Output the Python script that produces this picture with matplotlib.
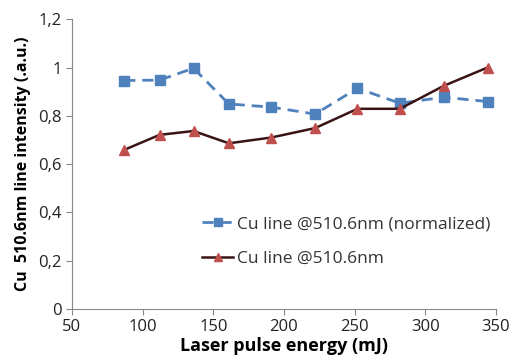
import numpy as np
import matplotlib.pyplot as plt
from matplotlib.ticker import FuncFormatter

# data
energy = [87, 112, 136, 161, 191, 222, 252, 282, 313, 344]
norm_line = [0.946, 0.948, 0.997, 0.849, 0.836, 0.807, 0.914, 0.852, 0.877, 0.859]
cu_line = [0.659, 0.721, 0.737, 0.686, 0.710, 0.749, 0.829, 0.829, 0.924, 1.0]

plt.rcParams['font.family'] = ['Open Sans', 'DejaVu Sans']

fig = plt.figure(figsize=(5.14, 3.63), dpi=100)
ax = fig.add_axes([0.140, 0.149, 0.825, 0.798])

ax.plot(energy, norm_line, color='#4F81BD', linestyle=(0, (4, 2.5)), linewidth=2,
        marker='s', markersize=7, label='Cu line @510.6nm (normalized)')
ax.plot(energy, cu_line, color='#3a1414', linewidth=1.8,
        marker='^', markersize=7, markerfacecolor='#C0504D', markeredgecolor='#C0504D',
        label='Cu line @510.6nm')

ax.set_xlim(50, 350)
ax.set_ylim(0, 1.2)
ax.set_xticks(np.arange(50, 351, 50))
ax.set_yticks(np.arange(0, 1.21, 0.2))
ax.yaxis.set_major_formatter(FuncFormatter(lambda v, p: ('%g' % round(v, 1)).replace('.', ',')))

for s in ['top', 'right']:
    ax.spines[s].set_visible(False)
for s in ['left', 'bottom']:
    ax.spines[s].set_color('#888888')
ax.tick_params(direction='out', length=4, color='#888888', labelsize=12, labelcolor='#222222')

ax.set_xlabel('Laser pulse energy (mJ)', fontsize=13, fontweight='bold', labelpad=1)
ax.set_ylabel('Cu  510.6nm line intensity (.a.u.)', fontsize=11.5, fontweight='bold', labelpad=5)

leg = ax.legend(loc='upper left', bbox_to_anchor=(0.27, 0.375), frameon=False, fontsize=12.5,
                handlelength=1.8, handletextpad=0.2, labelspacing=1.1, markerscale=0.8)
for t in leg.get_texts():
    t.set_color('#333333')

fig.savefig('out.png', dpi=100)
